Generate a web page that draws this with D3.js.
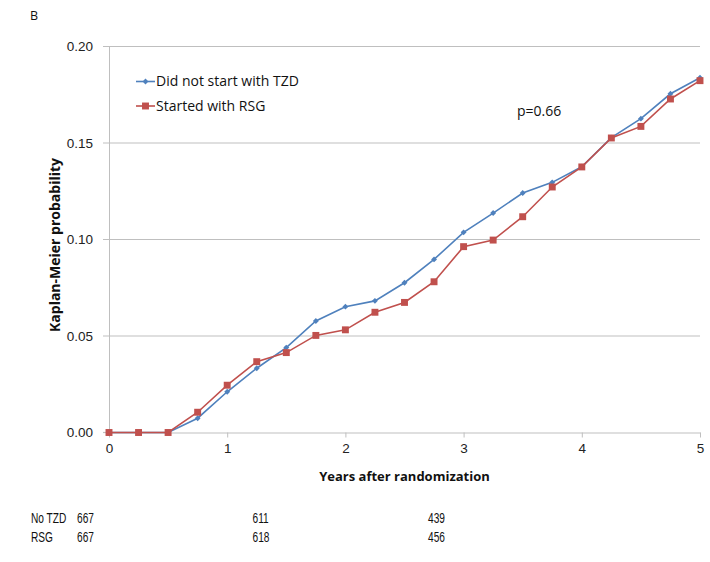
<!DOCTYPE html>
<html><head><meta charset="utf-8">
<script src="https://cdn.jsdelivr.net/npm/d3@7"></script>
<style>
body{margin:0;background:#fff;}
svg{display:block;font-family:"Open Sans","Noto Sans",sans-serif;}
</style></head>
<body><svg id="c" width="710" height="562"></svg>
<script>
const years = [0,0.25,0.5,0.75,1,1.25,1.5,1.75,2,2.25,2.5,2.75,3,3.25,3.5,3.75,4,4.25,4.5,4.75,5];
const noTZD = [0,0,0,0.0074,0.0211,0.0333,0.0440,0.0578,0.0652,0.0682,0.0776,0.0897,0.1037,0.1137,0.1241,0.1296,0.1377,0.1528,0.1626,0.1755,0.1838];
const rsg   = [0,0,0,0.0105,0.0245,0.0367,0.0414,0.0503,0.0532,0.0623,0.0674,0.0781,0.0963,0.0997,0.1118,0.1272,0.1376,0.1526,0.1586,0.1728,0.1823];
const xTicks = [0,1,2,3,4,5];
const yTicks = [0,0.05,0.10,0.15,0.20];
const seriesNames = ["Did not start with TZD","Started with RSG"];
const riskYears = [0,2,4];
const riskRows = ["No TZD","RSG"];
const riskNoTZD = [667,611,439];
const riskRSG = [667,618,456];
const pText = "p=0.66";
const panel = "B";
const xTitle = "Years after randomization";
const yTitle = "Kaplan-Meier probability";

const blue = "#4F81BD", red = "#C0504D", grid = "#BFBFBF";
const svg = d3.select("#c");
const x = d3.scaleLinear().domain([0,5]).range([109,700]);
const y = d3.scaleLinear().domain([0,0.2]).range([432.5,46.5]);

// y axis labels + gridlines
const yAxis = d3.axisLeft(y).tickValues(yTicks).tickFormat(d3.format(".2f")).tickSize(0).tickPadding(16);
const gy = svg.append("g").attr("transform","translate(109,0)").call(yAxis);
gy.select(".domain").attr("stroke",grid);
gy.selectAll("text").attr("font-size",13.5).attr("fill","#222");
svg.append("g").selectAll("line").data(yTicks.filter(d=>d>0)).join("line")
  .attr("x1",103).attr("x2",700).attr("y1",d=>y(d)).attr("y2",d=>y(d))
  .attr("stroke",grid).attr("stroke-width",1.2);
// x axis
const xAxis = d3.axisBottom(x).tickValues(xTicks).tickFormat(d3.format("d")).tickSize(5).tickSizeOuter(0).tickPadding(6);
const gx = svg.append("g").attr("transform",`translate(0,${y(0)})`).call(xAxis);
gx.select(".domain").attr("stroke",grid).attr("stroke-width",1.2);
gx.selectAll(".tick line").attr("stroke",grid);
gx.selectAll("text").attr("font-size",13.5).attr("fill","#222");
svg.append("line").attr("x1",103).attr("x2",109).attr("y1",y(0)).attr("y2",y(0)).attr("stroke",grid).attr("stroke-width",1.2);

const line = d3.line().x((d,i)=>x(years[i])).y(d=>y(d));
// blue series
svg.append("path").datum(noTZD).attr("d",line).attr("fill","none").attr("stroke",blue).attr("stroke-width",1.6);
svg.append("g").selectAll("path").data(noTZD).join("path")
  .attr("d",d3.symbol(d3.symbolDiamond2,22))
  .attr("transform",(d,i)=>`translate(${x(years[i])},${y(d)})`).attr("fill",blue);
// red series
svg.append("path").datum(rsg).attr("d",line).attr("fill","none").attr("stroke",red).attr("stroke-width",1.6);
svg.append("g").selectAll("path").data(rsg).join("path")
  .attr("d",d3.symbol(d3.symbolSquare,48))
  .attr("transform",(d,i)=>`translate(${x(years[i])},${y(d)})`).attr("fill",red);

// legend
const leg = svg.append("g");
[[blue,81.5,d3.symbolDiamond2,22],[red,106,d3.symbolSquare,48]].forEach((s,i)=>{
  leg.append("line").attr("x1",136).attr("x2",155).attr("y1",s[1]).attr("y2",s[1]).attr("stroke",s[0]).attr("stroke-width",1.6);
  leg.append("path").attr("d",d3.symbol(s[2],s[3])).attr("transform",`translate(145.5,${s[1]})`).attr("fill",s[0]);
  leg.append("text").attr("x",156).attr("y",s[1]).attr("dy","0.35em").attr("font-size",14).attr("fill","#111").text(seriesNames[i]);
});
svg.append("text").attr("x",517).attr("y",111).attr("dy","0.35em").attr("font-size",14).attr("fill","#111").text(pText);
svg.append("text").attr("x",30).attr("y",20).attr("font-size",12.5).attr("fill","#111").text(panel);

// titles
svg.append("text").attr("x",x(2.5)).attr("y",476).attr("dy","0.35em").attr("text-anchor","middle")
  .attr("font-size",13).attr("font-weight","bold").attr("fill","#111").text(xTitle);
svg.append("text").attr("transform","translate(55,245) rotate(-90)").attr("dy","0.35em").attr("text-anchor","middle")
  .attr("font-size",14).attr("font-weight","bold").attr("fill","#111").text(yTitle);

// risk table (narrow text, like Calibri)
const tx = d3.scaleLinear().domain([0,4]).range([77,428]);
const tf = "'Liberation Sans',sans-serif";
const rowY = [518,537];
[riskNoTZD,riskRSG].forEach((vals,r)=>{
  svg.append("text").attr("transform",`translate(31,${rowY[r]}) scale(0.7,1)`).attr("dy","0.35em")
    .attr("font-size",14.5).attr("font-family",tf).attr("fill","#111").text(riskRows[r]);
  svg.append("g").selectAll("text").data(vals).join("text")
    .attr("transform",(d,i)=>`translate(${tx(riskYears[i])},${rowY[r]}) scale(0.7,1)`).attr("dy","0.35em")
    .attr("font-size",14.5).attr("font-family",tf).attr("fill","#111").text(d=>d);
});
</script></body></html>
